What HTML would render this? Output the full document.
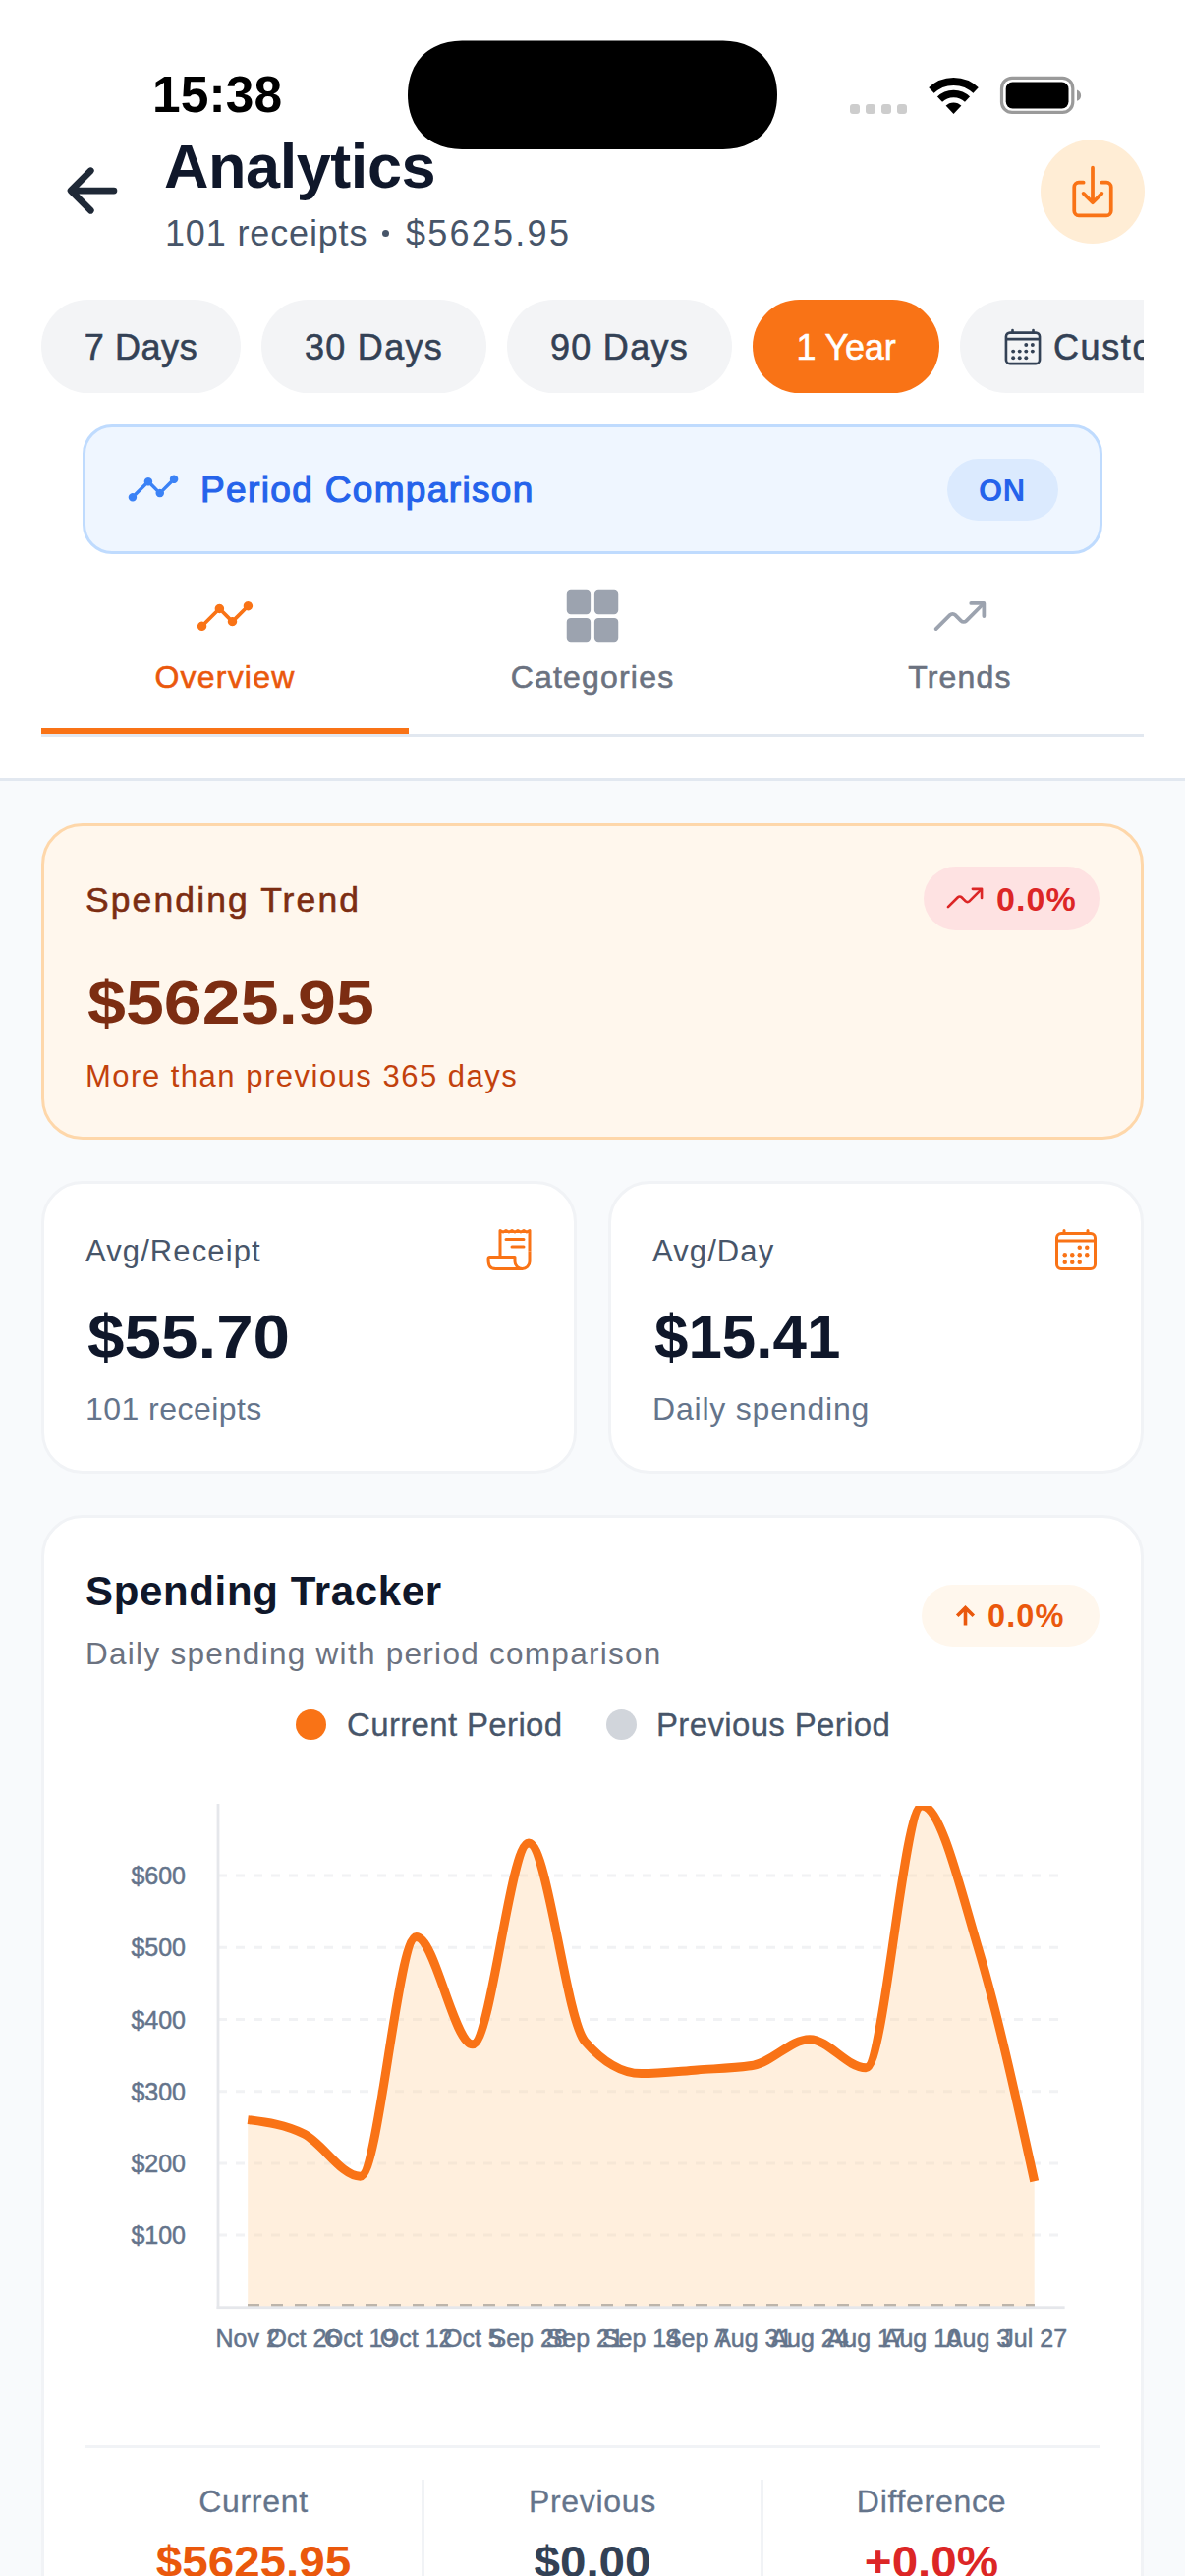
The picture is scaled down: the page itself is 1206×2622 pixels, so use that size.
<!DOCTYPE html>
<html>
<head>
<meta charset="utf-8">
<title>Analytics</title>
<style>
*{box-sizing:border-box;margin:0;padding:0}
html,body{width:1206px;height:2622px;overflow:hidden}
body{font-family:"Liberation Sans",sans-serif;background:#f8fafc;position:relative;color:#111827}
.abs{position:absolute}
.t{position:absolute;white-space:nowrap;line-height:1}
.b{font-weight:bold}
.m{-webkit-text-stroke:0.6px currentColor}
.sb{-webkit-text-stroke:1.2px currentColor}
.m2{-webkit-text-stroke:0}
.m3{-webkit-text-stroke:0.3px currentColor}
.sx{transform-origin:0 50%}
#header{left:0;top:0;width:1206px;height:795px;background:#fff;border-bottom:3px solid #e2e8f0}
.pill{position:absolute;top:305px;height:95px;border-radius:48px;background:#f3f4f6;color:#334155;font-size:36px;line-height:97px;text-align:center;white-space:nowrap;-webkit-text-stroke:0.6px currentColor}
.card{position:absolute;background:#fff;border:3px solid #f1f3f6;border-radius:42px}
</style>
</head>
<body>
<!-- HEADER -->
<div id="header" class="abs"></div>

<!-- status bar -->
<div class="t b" style="left:155px;top:71px;font-size:51.5px;color:#000;letter-spacing:0.1px">15:38</div>
<svg class="abs" style="left:400px;top:30px" width="410" height="135" viewBox="400 30 410 135"><path d="M735.9 41.6 L739.5 41.7 L743.1 42.0 L746.7 42.4 L750.2 43.1 L753.8 44.0 L757.3 45.1 L760.7 46.4 L764.0 47.9 L767.2 49.8 L770.3 51.8 L773.2 54.1 L776.0 56.6 L778.5 59.4 L780.8 62.3 L782.8 65.4 L784.7 68.6 L786.2 71.9 L787.5 75.3 L788.6 78.8 L789.5 82.4 L790.2 85.9 L790.6 89.5 L790.9 93.1 L791.0 96.8 L790.9 100.4 L790.6 104.0 L790.2 107.6 L789.5 111.1 L788.6 114.7 L787.5 118.2 L786.2 121.6 L784.7 124.9 L782.8 128.1 L780.8 131.2 L778.5 134.1 L776.0 136.9 L773.2 139.4 L770.3 141.7 L767.2 143.7 L764.0 145.6 L760.7 147.1 L757.3 148.4 L753.8 149.5 L750.2 150.4 L746.7 151.1 L743.1 151.5 L739.5 151.8 L735.9 151.9 L470.1 151.9 L466.5 151.8 L462.9 151.5 L459.3 151.1 L455.8 150.4 L452.2 149.5 L448.7 148.4 L445.3 147.1 L442.0 145.6 L438.8 143.7 L435.7 141.7 L432.8 139.4 L430.0 136.9 L427.5 134.1 L425.2 131.2 L423.2 128.1 L421.3 124.9 L419.8 121.6 L418.5 118.2 L417.4 114.7 L416.5 111.1 L415.8 107.6 L415.4 104.0 L415.1 100.4 L415.0 96.8 L415.1 93.1 L415.4 89.5 L415.8 85.9 L416.5 82.4 L417.4 78.8 L418.5 75.3 L419.8 71.9 L421.3 68.6 L423.2 65.4 L425.2 62.3 L427.5 59.4 L430.0 56.6 L432.8 54.1 L435.7 51.8 L438.8 49.8 L442.0 47.9 L445.3 46.4 L448.7 45.1 L452.2 44.0 L455.8 43.1 L459.3 42.4 L462.9 42.0 L466.5 41.7 L470.1 41.6Z" fill="#000"/></svg>
<svg class="abs" style="left:850px;top:60px" width="270" height="75" viewBox="850 60 270 75">
<g fill="#cdcdcd"><rect x="865" y="106" width="10" height="10" rx="3"/><rect x="881" y="106" width="10" height="10" rx="3"/><rect x="897" y="106" width="10" height="10" rx="3"/><rect x="913" y="106" width="10" height="10" rx="3"/></g>
<defs><clipPath id="wf"><path d="M970.5 116 L929.4 72.3 L929.4 60 L1011.6 60 L1011.6 72.3 Z"/></clipPath></defs>
<g clip-path="url(#wf)" fill="none" stroke="#000">
<circle cx="970.5" cy="115.8" r="32.9" stroke-width="8"/>
<circle cx="970.5" cy="115.8" r="20.3" stroke-width="7.4"/>
<circle cx="970.5" cy="115.8" r="5.7" stroke-width="11.4" />
</g>
<rect x="1019.5" y="79.4" width="72.3" height="35" rx="10.5" fill="none" stroke="#9a9a9a" stroke-width="3.2"/>
<rect x="1023.7" y="83.6" width="63.8" height="26.8" rx="6.8" fill="#000"/>
<path d="M1096 91.4 C1101.5 93 1101.5 101.2 1096 102.8 Z" fill="#9a9a9a"/>
</svg>

<!-- title row -->
<svg class="abs" style="left:58px;top:158px" width="72" height="72" viewBox="0 0 512 512"><path fill="none" stroke="#1f2937" stroke-linecap="round" stroke-linejoin="round" stroke-width="48" d="M244 400L100 256l144-144M120 256h292"/></svg>
<div class="t b" style="left:167px;top:137.5px;font-size:63px;color:#0f172a;letter-spacing:-0.45px">Analytics</div>
<div class="t" style="left:168px;top:220px;font-size:36px;color:#475569;letter-spacing:0.85px">101 receipts</div>
<div class="abs" style="left:389px;top:234px;width:7px;height:7px;border-radius:50%;background:#475569"></div>
<div class="t" style="left:413px;top:220px;font-size:36px;color:#475569;letter-spacing:2.25px">$5625.95</div>
<div class="abs" style="left:1059px;top:142px;width:106px;height:106px;border-radius:50%;background:#ffedd5"></div>
<svg class="abs" style="left:1082px;top:165px" width="60" height="60" viewBox="0 0 512 512"><path d="M336 176h40a40 40 0 0140 40v208a40 40 0 01-40 40H136a40 40 0 01-40-40V216a40 40 0 0140-40h40" fill="none" stroke="#f97316" stroke-linecap="round" stroke-linejoin="round" stroke-width="32"/><path fill="none" stroke="#f97316" stroke-linecap="round" stroke-linejoin="round" stroke-width="32" d="M176 272l80 80 80-80M256 48v288"/></svg>

<!-- pills -->
<div class="abs" style="left:42px;top:300px;width:1122px;height:110px;overflow:hidden">
  <div class="pill" style="left:0;top:5px;width:203px;letter-spacing:0.6px">7 Days</div>
  <div class="pill" style="left:224px;top:5px;width:229px;letter-spacing:1.3px">30 Days</div>
  <div class="pill" style="left:474px;top:5px;width:229px;letter-spacing:1.3px">90 Days</div>
  <div class="pill" style="left:724px;top:5px;width:190px;background:#f97316;color:#fff;letter-spacing:-0.2px">1 Year</div>
  <div class="pill" style="left:935px;top:5px;width:300px;text-align:left;padding-left:95px;letter-spacing:1.6px">Custom</div>
  <svg style="position:absolute;left:977.5px;top:31.5px;color:#334155" width="42" height="42" viewBox="0 0 512 512"><rect fill="none" stroke="currentColor" stroke-linejoin="round" stroke-width="32" x="48" y="80" width="416" height="384" rx="48"/><g fill="currentColor"><circle cx="296" cy="232" r="24"/><circle cx="376" cy="232" r="24"/><circle cx="296" cy="312" r="24"/><circle cx="376" cy="312" r="24"/><circle cx="136" cy="312" r="24"/><circle cx="216" cy="312" r="24"/><circle cx="136" cy="392" r="24"/><circle cx="216" cy="392" r="24"/><circle cx="296" cy="392" r="24"/></g><path fill="none" stroke="currentColor" stroke-linejoin="round" stroke-width="32" stroke-linecap="round" d="M128 48v32M384 48v32"/><path fill="none" stroke="currentColor" stroke-linejoin="round" stroke-width="32" d="M464 160H48"/></svg>
</div>

<!-- period comparison -->
<div class="abs" style="left:84px;top:432px;width:1038px;height:132px;border:3px solid #bfdbfe;background:#eff6ff;border-radius:30px"></div>
<svg class="abs" style="left:129px;top:470px" width="54" height="54" viewBox="0 0 512 512"><path fill="#3b82f6" d="M456 128a40 40 0 00-37.23 54.6l-84.17 84.17a39.86 39.86 0 00-29.2 0l-60.17-60.17a40 40 0 10-74.46 0L70.6 306.77a40 40 0 1022.63 22.63L193.4 229.23a39.86 39.86 0 0029.2 0l60.17 60.17a40 40 0 1074.46 0l84.17-84.17A40 40 0 10456 128z"/></svg>
<div class="t sb" style="left:204px;top:480px;font-size:37px;color:#2563eb;letter-spacing:1.35px">Period Comparison</div>
<div class="abs" style="left:964px;top:467px;width:113px;height:63px;border-radius:32px;background:#dbeafe"></div>
<div class="t b" style="left:996px;top:484px;font-size:31px;color:#2563eb;letter-spacing:0.6px">ON</div>

<!-- tabs -->
<div class="abs" style="left:42px;top:747px;width:1122px;height:3px;background:#e2e8f0"></div>
<div class="abs" style="left:42px;top:741px;width:374px;height:6px;background:#f97316"></div>
<svg class="abs" style="left:199px;top:597px" width="60" height="60" viewBox="0 0 512 512"><path fill="#f97316" d="M456 128a40 40 0 00-37.23 54.6l-84.17 84.17a39.86 39.86 0 00-29.2 0l-60.17-60.17a40 40 0 10-74.46 0L70.6 306.77a40 40 0 1022.63 22.63L193.4 229.23a39.86 39.86 0 0029.2 0l60.17 60.17a40 40 0 1074.46 0l84.17-84.17A40 40 0 10456 128z"/></svg>
<svg class="abs" style="left:573px;top:597px" width="60" height="60" viewBox="0 0 512 512"><path fill="#9ca3af" d="M204 240H68a36 36 0 01-36-36V68a36 36 0 0136-36h136a36 36 0 0136 36v136a36 36 0 01-36 36zM444 240H308a36 36 0 01-36-36V68a36 36 0 0136-36h136a36 36 0 0136 36v136a36 36 0 01-36 36zM204 480H68a36 36 0 01-36-36V308a36 36 0 0136-36h136a36 36 0 0136 36v136a36 36 0 01-36 36zM444 480H308a36 36 0 01-36-36V308a36 36 0 0136-36h136a36 36 0 0136 36v136a36 36 0 01-36 36z"/></svg>
<svg class="abs" style="left:947px;top:597px;color:#9ca3af" width="60" height="60" viewBox="0 0 512 512"><path fill="none" stroke="currentColor" stroke-linecap="round" stroke-linejoin="round" stroke-width="32" d="M352 144h112v112"/><path d="M48 368l121.37-121.37a32 32 0 0145.26 0l50.74 50.74a32 32 0 0045.26 0L448 160" fill="none" stroke="currentColor" stroke-linecap="round" stroke-linejoin="round" stroke-width="32"/></svg>
<div class="t m" style="left:42px;width:374px;text-align:center;top:673px;font-size:32px;color:#ea580c;letter-spacing:1.2px">Overview</div>
<div class="t m" style="left:416px;width:374px;text-align:center;top:673px;font-size:32px;color:#6b7280;letter-spacing:1.2px">Categories</div>
<div class="t m" style="left:790px;width:374px;text-align:center;top:673px;font-size:32px;color:#6b7280;letter-spacing:1.2px">Trends</div>

<!-- SPENDING TREND CARD -->
<div class="abs" style="left:42px;top:838px;width:1122px;height:322px;border:3px solid #fed7aa;background:#fff7ed;border-radius:42px"></div>
<div class="t m" style="left:87px;top:899px;font-size:35.5px;color:#7c2d12;letter-spacing:2.1px">Spending Trend</div>
<div class="t b sx" style="left:89px;top:988.5px;font-size:63.5px;color:#7c2d12;transform:scaleX(1.102)">$5625.95</div>
<div class="t" style="left:87px;top:1080px;font-size:31px;color:#c2410c;letter-spacing:1.5px">More than previous 365 days</div>
<div class="abs" style="left:940px;top:882px;width:179px;height:65px;border-radius:33px;background:#fee2e2"></div>
<svg class="abs" style="left:961px;top:893px;color:#dc2626" width="42" height="42" viewBox="0 0 512 512"><path fill="none" stroke="currentColor" stroke-linecap="round" stroke-linejoin="round" stroke-width="32" d="M352 144h112v112"/><path d="M48 368l121.37-121.37a32 32 0 0145.26 0l50.74 50.74a32 32 0 0045.26 0L448 160" fill="none" stroke="currentColor" stroke-linecap="round" stroke-linejoin="round" stroke-width="32"/></svg>
<div class="t b" style="left:1014px;top:897.5px;font-size:34px;color:#dc2626;letter-spacing:1.1px">0.0%</div>

<!-- STAT CARDS -->
<div class="card" style="left:42px;top:1202px;width:545px;height:298px"></div>
<div class="card" style="left:619px;top:1202px;width:545px;height:298px"></div>
<div class="t m2" style="left:87px;top:1258px;font-size:31px;color:#475569;letter-spacing:1.1px">Avg/Receipt</div>
<div class="t b sx" style="left:89px;top:1329px;font-size:63.5px;color:#0f172a;transform:scaleX(1.061)">$55.70</div>
<div class="t" style="left:87px;top:1418px;font-size:32px;color:#64748b;letter-spacing:0.45px">101 receipts</div>
<div class="t m2" style="left:664px;top:1258px;font-size:31px;color:#475569;letter-spacing:1.1px">Avg/Day</div>
<div class="t b sx" style="left:666px;top:1329px;font-size:63.5px;color:#0f172a;transform:scaleX(0.975)">$15.41</div>
<div class="t" style="left:664px;top:1418px;font-size:32px;color:#64748b;letter-spacing:0.8px">Daily spending</div>
<svg class="abs" style="left:494px;top:1248px;color:#f97316" width="48" height="48" viewBox="0 0 512 512"><path fill="none" stroke="currentColor" stroke-linejoin="round" stroke-width="32" d="M160 336V48l32 16 32-16 31.94 16 32.37-16L320 64l31.79-16 31.93 16L416 48l32.01 16L480 48v224"/><path d="M480 272v112a80 80 0 01-80 80h0a80 80 0 01-80-80v-48H48a15.86 15.86 0 00-16 16c0 64 6.74 112 80 112h288" fill="none" stroke="currentColor" stroke-linejoin="round" stroke-width="32"/><path fill="none" stroke="currentColor" stroke-linecap="round" stroke-linejoin="round" stroke-width="32" d="M224 144h192M288 224h128"/></svg>
<svg class="abs" style="left:1071px;top:1248px;color:#f97316" width="48" height="48" viewBox="0 0 512 512"><rect fill="none" stroke="currentColor" stroke-linejoin="round" stroke-width="32" x="48" y="80" width="416" height="384" rx="48"/><g fill="currentColor"><circle cx="296" cy="232" r="24"/><circle cx="376" cy="232" r="24"/><circle cx="296" cy="312" r="24"/><circle cx="376" cy="312" r="24"/><circle cx="136" cy="312" r="24"/><circle cx="216" cy="312" r="24"/><circle cx="136" cy="392" r="24"/><circle cx="216" cy="392" r="24"/><circle cx="296" cy="392" r="24"/></g><path fill="none" stroke="currentColor" stroke-linejoin="round" stroke-width="32" stroke-linecap="round" d="M128 48v32M384 48v32"/><path fill="none" stroke="currentColor" stroke-linejoin="round" stroke-width="32" d="M464 160H48"/></svg>

<!-- TRACKER CARD -->
<div class="card" style="left:42px;top:1542px;width:1122px;height:1200px"></div>
<div class="t b" style="left:87px;top:1599px;font-size:42px;color:#0f172a;letter-spacing:0.65px">Spending Tracker</div>
<div class="t" style="left:87px;top:1667.5px;font-size:31.5px;color:#6b7280;letter-spacing:1.28px">Daily spending with period comparison</div>
<div class="abs" style="left:938px;top:1613px;width:181px;height:63px;border-radius:32px;background:#fff7ed"></div>
<svg class="abs" style="left:970px;top:1633px" width="25" height="25" viewBox="0 0 25 25"><path d="M12.5 21.5V4M4.2 11.8L12.5 3.6L20.8 11.8" fill="none" stroke="#ea580c" stroke-width="3.6" stroke-linecap="butt" stroke-linejoin="miter"/></svg>
<div class="t b" style="left:1005px;top:1629px;font-size:32.5px;color:#ea580c;letter-spacing:1.1px">0.0%</div>
<div class="abs" style="left:301px;top:1740px;width:31px;height:31px;border-radius:50%;background:#f97316"></div>
<div class="t m3" style="left:353px;top:1739px;font-size:33px;color:#475569;letter-spacing:0.35px">Current Period</div>
<div class="abs" style="left:617px;top:1740px;width:31px;height:31px;border-radius:50%;background:#d1d5db"></div>
<div class="t m3" style="left:668px;top:1739px;font-size:33px;color:#475569;letter-spacing:0.35px">Previous Period</div>
<!-- CHART-START -->
<svg class="abs" style="left:0;top:0" width="1206" height="2622" viewBox="0 0 1206 2622">
<defs><clipPath id="cc"><rect x="200" y="1838" width="900" height="520"/></clipPath></defs>
<line x1="222" y1="2275.1" x2="1078" y2="2275.1" stroke="#f1f2f4" stroke-width="3" stroke-dasharray="9 9"/>
<line x1="222" y1="2201.9" x2="1078" y2="2201.9" stroke="#f1f2f4" stroke-width="3" stroke-dasharray="9 9"/>
<line x1="222" y1="2128.7" x2="1078" y2="2128.7" stroke="#f1f2f4" stroke-width="3" stroke-dasharray="9 9"/>
<line x1="222" y1="2055.5" x2="1078" y2="2055.5" stroke="#f1f2f4" stroke-width="3" stroke-dasharray="9 9"/>
<line x1="222" y1="1982.3" x2="1078" y2="1982.3" stroke="#f1f2f4" stroke-width="3" stroke-dasharray="9 9"/>
<line x1="222" y1="1909.1" x2="1078" y2="1909.1" stroke="#f1f2f4" stroke-width="3" stroke-dasharray="9 9"/>
<g clip-path="url(#cc)">
<path d="M252.2 2157.6 C271.3 2160.0 290.3 2162.4 309.4 2172.0 C328.4 2181.6 347.5 2215.2 366.6 2215.2 C385.6 2215.2 404.7 1971.5 423.7 1971.5 C442.8 1971.5 461.9 2080.8 480.9 2080.8 C500.0 2080.8 519.0 1875.9 538.1 1875.9 C557.2 1875.9 576.2 2056.1 595.3 2077.9 C614.3 2099.7 633.4 2110.6 652.5 2110.6 C671.5 2110.6 690.6 2108.3 709.6 2106.9 C728.7 2105.5 747.8 2105.3 766.8 2102.2 C785.9 2099.1 804.9 2075.7 824.0 2075.7 C843.1 2075.7 862.1 2104.8 881.2 2104.8 C900.2 2104.8 919.3 1838.1 938.4 1838.1 C957.4 1838.1 976.5 1919.3 995.5 1983.0 C1014.6 2046.7 1033.7 2133.5 1052.7 2220.3 L1052.7 2348.3 L252.2 2348.3 Z" fill="#fed7aa" fill-opacity="0.4"/>
<path d="M252.2 2157.6 C271.3 2160.0 290.3 2162.4 309.4 2172.0 C328.4 2181.6 347.5 2215.2 366.6 2215.2 C385.6 2215.2 404.7 1971.5 423.7 1971.5 C442.8 1971.5 461.9 2080.8 480.9 2080.8 C500.0 2080.8 519.0 1875.9 538.1 1875.9 C557.2 1875.9 576.2 2056.1 595.3 2077.9 C614.3 2099.7 633.4 2110.6 652.5 2110.6 C671.5 2110.6 690.6 2108.3 709.6 2106.9 C728.7 2105.5 747.8 2105.3 766.8 2102.2 C785.9 2099.1 804.9 2075.7 824.0 2075.7 C843.1 2075.7 862.1 2104.8 881.2 2104.8 C900.2 2104.8 919.3 1838.1 938.4 1838.1 C957.4 1838.1 976.5 1919.3 995.5 1983.0 C1014.6 2046.7 1033.7 2133.5 1052.7 2220.3" fill="none" stroke="#f97316" stroke-width="9" stroke-linejoin="round"/>
</g>
<line x1="252" y1="2346.6" x2="1053" y2="2346.6" stroke="#bdb5ab" stroke-width="3" stroke-dasharray="12 12"/>
<rect x="220.6" y="1836" width="2.8" height="514" fill="#e5e7eb"/>
<rect x="220.6" y="2347.3" width="863" height="2.8" fill="#e5e7eb"/>
<g font-family="Liberation Sans, sans-serif" font-size="25" fill="#64748b" stroke="#64748b" stroke-width="0.5">
<text x="189" y="2284.1" text-anchor="end">$100</text>
<text x="189" y="2210.9" text-anchor="end">$200</text>
<text x="189" y="2137.7" text-anchor="end">$300</text>
<text x="189" y="2064.5" text-anchor="end">$400</text>
<text x="189" y="1991.3" text-anchor="end">$500</text>
<text x="189" y="1918.1" text-anchor="end">$600</text>
<text x="252.2" y="2389" text-anchor="middle">Nov 2</text>
<text x="309.4" y="2389" text-anchor="middle">Oct 26</text>
<text x="366.6" y="2389" text-anchor="middle">Oct 19</text>
<text x="423.7" y="2389" text-anchor="middle">Oct 12</text>
<text x="480.9" y="2389" text-anchor="middle">Oct 5</text>
<text x="538.1" y="2389" text-anchor="middle">Sep 28</text>
<text x="595.3" y="2389" text-anchor="middle">Sep 21</text>
<text x="652.5" y="2389" text-anchor="middle">Sep 14</text>
<text x="709.6" y="2389" text-anchor="middle">Sep 7</text>
<text x="766.8" y="2389" text-anchor="middle">Aug 31</text>
<text x="824.0" y="2389" text-anchor="middle">Aug 24</text>
<text x="881.2" y="2389" text-anchor="middle">Aug 17</text>
<text x="938.4" y="2389" text-anchor="middle">Aug 10</text>
<text x="995.5" y="2389" text-anchor="middle">Aug 3</text>
<text x="1052.7" y="2389" text-anchor="middle">Jul 27</text>
</g></svg>
<!-- CHART-END -->

<!-- bottom stats -->
<div class="abs" style="left:87px;top:2489px;width:1032px;height:3px;background:#f1f3f6"></div>
<div class="abs" style="left:429px;top:2524px;width:3px;height:100px;background:#f1f3f6"></div>
<div class="abs" style="left:774px;top:2524px;width:3px;height:100px;background:#f1f3f6"></div>
<div class="t m3" style="left:87px;width:342px;text-align:center;top:2530px;font-size:32px;color:#64748b;letter-spacing:0.7px">Current</div>
<div class="t m3" style="left:432px;width:342px;text-align:center;top:2530px;font-size:32px;color:#64748b;letter-spacing:0.7px">Previous</div>
<div class="t m3" style="left:777px;width:342px;text-align:center;top:2530px;font-size:32px;color:#64748b;letter-spacing:0.7px">Difference</div>
<div class="t b" style="left:87px;width:342px;text-align:center;top:2585px;font-size:45px;color:#ea580c;transform:scaleX(1.058)">$5625.95</div>
<div class="t b" style="left:432px;width:342px;text-align:center;top:2585px;font-size:45px;color:#334155;transform:scaleX(1.058)">$0.00</div>
<div class="t b" style="left:777px;width:342px;text-align:center;top:2585px;font-size:45px;color:#dc2626;transform:scaleX(1.058)">+0.0%</div>
</body>
</html>
